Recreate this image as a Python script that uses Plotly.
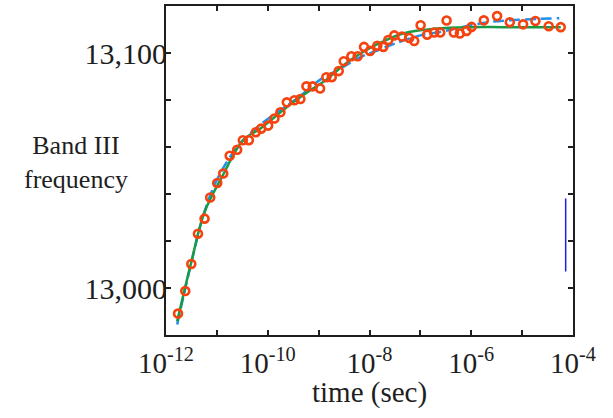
import plotly.graph_objects as go

# ---- data ----
# measured points: log10(time / s) and Band III frequency
meas_logt = [-11.764, -11.621, -11.503, -11.372, -11.242, -11.131, -10.993, -10.875,
             -10.748, -10.601, -10.489, -10.371, -10.234, -10.130, -9.992, -9.869,
             -9.751, -9.625, -9.476, -9.358, -9.240, -9.115, -8.972, -8.848,
             -8.742, -8.605, -8.506, -8.357, -8.232, -8.108, -7.990, -7.847,
             -7.729, -7.631, -7.513, -7.362, -7.219, -7.121, -6.995, -6.866,
             -6.728, -6.610, -6.485, -6.342, -6.224, -6.092, -5.994, -5.753,
             -5.492, -5.242, -4.981, -4.738, -4.477, -4.241]
meas_freq = [12989.1, 12998.7, 13010.2, 13023.1, 13029.5, 13038.5, 13044.7, 13048.7,
             13056.3, 13058.8, 13062.9, 13062.9, 13066.3, 13067.8, 13069.1, 13072.1,
             13074.8, 13079.0, 13079.9, 13080.4, 13085.8, 13085.8, 13084.9, 13089.7,
             13089.7, 13092.3, 13096.5, 13098.6, 13098.6, 13102.6, 13100.9, 13103.1,
             13102.6, 13105.5, 13107.5, 13107.0, 13106.4, 13105.1, 13111.8, 13107.8,
             13108.7, 13108.7, 13113.8, 13108.7, 13108.3, 13109.4, 13111.1, 13113.9,
             13115.7, 13113.1, 13112.2, 13113.6, 13111.4, 13111.0]

# green solid fit curve
green_logt = [-11.78, -11.503, -11.248, -10.901, -10.48, -10.149, -9.821, -9.496,
              -9.169, -8.840, -8.514, -8.186, -7.794, -7.337, -6.681, -6.0, -5.37, -4.24]
green_freq = [12985.8, 13011.0, 13032.0, 13047.2, 13063.0, 13067.8, 13073.5, 13079.1,
              13084.1, 13088.7, 13094.8, 13099.7, 13104.3, 13108.3, 13110.4, 13111.0,
              13111.0, 13111.0]

# blue dashed fit curve
blue_logt = [-11.78, -11.5, -11.25, -11.0, -10.6, -10.2, -9.8, -9.4, -8.94, -8.6,
             -8.2, -7.8, -7.5, -7.0, -6.6, -6.0, -5.6, -5.25, -4.7, -4.27]
blue_freq = [12984.5, 13011.0, 13032.0, 13046.0, 13060.0, 13068.5, 13075.0, 13081.0,
             13089.1, 13093.0, 13098.0, 13101.5, 13104.0, 13107.5, 13109.0, 13111.8,
             13113.3, 13113.9, 13114.5, 13114.8]

x_tick_exp = [-12, -11, -10, -9, -8, -7, -6, -5, -4]
x_tick_text = ["10<sup>-12</sup>", "", "10<sup>-10</sup>", "", "10<sup>-8</sup>", "",
               "10<sup>-6</sup>", "", "10<sup>-4</sup>"]
y_tick_vals = [12980, 13000, 13020, 13040, 13060, 13080, 13100, 13120]
y_tick_text = ["", "13,000", "", "", "", "", "13,100", ""]

FONT = "Liberation Serif"
INK = "#1e1e1e"

t_meas = [10 ** v for v in meas_logt]
t_green = [10 ** v for v in green_logt]
t_blue = [10 ** v for v in blue_logt]

fig = go.Figure()
fig.add_trace(go.Scatter(x=t_blue, y=blue_freq, mode="lines", line_shape="spline",
                         line=dict(color="#1e90f0", width=2.5, dash="11px,5px"),
                         hoverinfo="skip"))
fig.add_trace(go.Scatter(x=t_green, y=green_freq, mode="lines", line_shape="spline",
                         line=dict(color="#1a9a45", width=2.5), hoverinfo="skip"))
fig.add_trace(go.Scatter(x=t_meas, y=meas_freq, mode="markers",
                         marker=dict(symbol="circle-open", size=8, color="#f5420f",
                                     line=dict(width=2.6, color="#f5420f"))))

fig.update_layout(
    width=613, height=418,
    margin=dict(l=166, r=40, t=6, b=83, autoexpand=False),
    paper_bgcolor="white", plot_bgcolor="white",
    showlegend=False,
    font=dict(family=FONT, color=INK, size=28),
    xaxis=dict(type="log", range=[-12, -4], automargin=False,
               tickvals=[10 ** e for e in x_tick_exp], ticktext=x_tick_text,
               ticks="inside", ticklen=5, tickwidth=2, tickcolor=INK,
               showline=True, linewidth=2, linecolor=INK, mirror="ticks",
               showgrid=False, zeroline=False,
               tickfont=dict(size=29, family=FONT, color=INK),
               ticklabelstandoff=1),
    yaxis=dict(range=[12980, 13120], automargin=False,
               tickvals=y_tick_vals, ticktext=y_tick_text,
               ticks="inside", ticklen=5, tickwidth=2, tickcolor=INK,
               showline=True, linewidth=2, linecolor=INK, mirror="ticks",
               showgrid=False, zeroline=False,
               tickfont=dict(size=30, family=FONT, color=INK),
               ticklabelstandoff=-9),
    annotations=[
        dict(text="Band III<br>frequency", xref="paper", yref="paper",
             x=-0.222, y=0.525, xanchor="center", yanchor="middle",
             showarrow=False, align="center",
             font=dict(size=26, family=FONT, color=INK)),
        dict(text="time (sec)", xref="paper", yref="paper",
             x=0.5, y=-0.175, xanchor="center", yanchor="middle",
             showarrow=False, font=dict(size=29, family=FONT, color=INK)),
    ],
    shapes=[dict(type="line", xref="paper", yref="paper",
                 x0=0.982, x1=0.982, y0=0.193, y1=0.415,
                 line=dict(color="#2020d8", width=1.5))],
)

fig.write_html("out.html", config={"displayModeBar": False},
               post_script="document.body.style.margin='0';")
